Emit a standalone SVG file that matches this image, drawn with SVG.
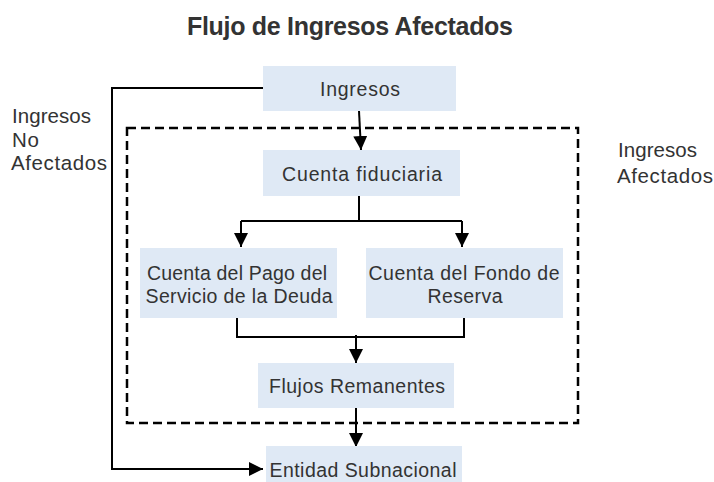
<svg xmlns="http://www.w3.org/2000/svg" width="714" height="482" viewBox="0 0 714 482">
<style>
.box{fill:#dfe9f5;stroke:none}
.t{font-family:"Liberation Sans",Arial,sans-serif;font-size:19.5px;fill:#333;text-anchor:middle}
.lbl{font-family:"Liberation Sans",Arial,sans-serif;font-size:20.5px;fill:#333}
.c{fill:none;stroke:#000;stroke-width:2}
</style>
<defs>
<marker id="ahb" markerWidth="14" markerHeight="14" refX="14" refY="7" orient="auto" markerUnits="userSpaceOnUse" viewBox="0 0 14 14">
<path d="M0,0 L14,7 L0,14 z" fill="#000"/>
</marker>
</defs>
<rect width="714" height="482" fill="#fff"/>
<text x="350" y="35" font-family="'Liberation Sans',Arial,sans-serif" font-size="25" font-weight="bold" fill="#333" text-anchor="middle" textLength="326" lengthAdjust="spacing">Flujo de Ingresos Afectados</text>
<rect x="127" y="128" width="451" height="295" fill="none" stroke="#000" stroke-width="2.5" stroke-dasharray="9,5"/>
<g id="lbl-no">
<text class="lbl" x="12" y="123" textLength="79" lengthAdjust="spacing">Ingresos</text>
<text class="lbl" x="12" y="146.5" textLength="27" lengthAdjust="spacing">No</text>
<text class="lbl" x="11" y="170" textLength="96" lengthAdjust="spacing">Afectados</text>
</g>
<g id="lbl-af">
<text class="lbl" x="618" y="157" textLength="79" lengthAdjust="spacing">Ingresos</text>
<text class="lbl" x="617" y="183" textLength="96" lengthAdjust="spacing">Afectados</text>
</g>
<g id="connectors">
<path class="c" d="M263,88 H112 V469 H263" marker-end="url(#ahb)"/>
<path class="c" d="M359,111 L361,150" marker-end="url(#ahb)"/>
<path class="c" d="M359,196 V221"/>
<path class="c" d="M241,221 H462"/>
<path class="c" d="M241,221 V247" marker-end="url(#ahb)"/>
<path class="c" d="M462,221 V247" marker-end="url(#ahb)"/>
<path class="c" d="M237,318 V337 H464 V318"/>
<path class="c" d="M356,335 V363" marker-end="url(#ahb)"/>
<path class="c" d="M356,408 V447" marker-end="url(#ahb)"/>
</g>
<g id="n-ingresos">
<rect class="box" x="263" y="66" width="193" height="45"/>
<text class="t" x="360" y="96" textLength="80" lengthAdjust="spacing">Ingresos</text>
</g>
<g id="n-fiduciaria">
<rect class="box" x="263" y="150" width="197" height="46"/>
<text class="t" x="362" y="181" textLength="160" lengthAdjust="spacing">Cuenta fiduciaria</text>
</g>
<g id="n-pago">
<rect class="box" x="140" y="248" width="197" height="70"/>
<text class="t" x="237" y="280" textLength="180" lengthAdjust="spacing">Cuenta del Pago del</text>
<text class="t" x="239" y="303" textLength="187" lengthAdjust="spacing">Servicio de la Deuda</text>
</g>
<g id="n-fondo">
<rect class="box" x="366" y="248" width="197" height="70"/>
<text class="t" x="464" y="280" textLength="191" lengthAdjust="spacing">Cuenta del Fondo de</text>
<text class="t" x="465" y="303" textLength="75" lengthAdjust="spacing">Reserva</text>
</g>
<g id="n-flujos">
<rect class="box" x="258" y="363" width="196" height="45"/>
<text class="t" x="357" y="393" textLength="176" lengthAdjust="spacing">Flujos Remanentes</text>
</g>
<g id="n-entidad">
<rect class="box" x="266" y="446" width="196" height="40"/>
<text class="t" x="363" y="477" textLength="187" lengthAdjust="spacing">Entidad Subnacional</text>
</g>
</svg>
